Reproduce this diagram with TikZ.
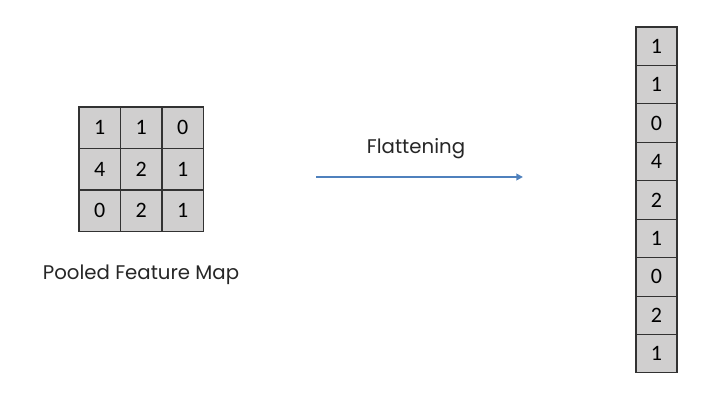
\documentclass[tikz,border=0pt]{standalone}
\usepackage{fontspec}
\setmainfont{Poppins}
\newfontfamily\cellfont{Carlito}
\usetikzlibrary{arrows.meta, positioning}
\definecolor{cellgray}{RGB}{208,207,207}
\definecolor{cellline}{RGB}{50,50,50}
\definecolor{arrowblue}{RGB}{79,129,189}

\begin{document}
\begin{tikzpicture}[
      x=0.75pt, y=0.75pt,
      gridcell/.style={
        rectangle, draw=cellline, fill=cellgray, line width=0.8pt,
        minimum width=31.1pt, minimum height=31.1pt, inner sep=0pt,
        font=\cellfont\fontsize{16.5}{18}\selectfont
      },
      colcell/.style={
        gridcell, minimum width=30.75pt, minimum height=28.8pt
      },
      label/.style={font=\fontsize{14.8}{17}\selectfont, text=black!85}
    ]
    \useasboundingbox (0,0) rectangle (713,402);

    % pooled feature map
    \foreach \v [count=\i from 0] in {1,1,0,4,2,1,0,2,1} {
      \pgfmathtruncatemacro{\r}{div(\i,3)}
      \pgfmathtruncatemacro{\c}{mod(\i,3)}
      \node[gridcell] (g\r\c) at ({99.75+\c*41.5}, {274.25-\r*41.5}) {\v};
    }
    \node[label] (pool) at (141,127) {Pooled Feature Map};

    % flattening arrow
    \node[label] (flat) at (416,253) {Flattening};
    \coordinate (astart) at (316,225);
    \coordinate (aend) at (523,225);
    \draw[-{Triangle[length=5pt,width=5pt]}, arrowblue, line width=1.3pt] (astart) -- (aend);

    % flattened column
    \foreach \v [count=\i] in {1,1,0,4,2,1,0,2,1} {
      \node[colcell] (c\i) at (656.5, {375-(\i-0.5)*38.44}) {\v};
    }
  \end{tikzpicture}
\end{document}
